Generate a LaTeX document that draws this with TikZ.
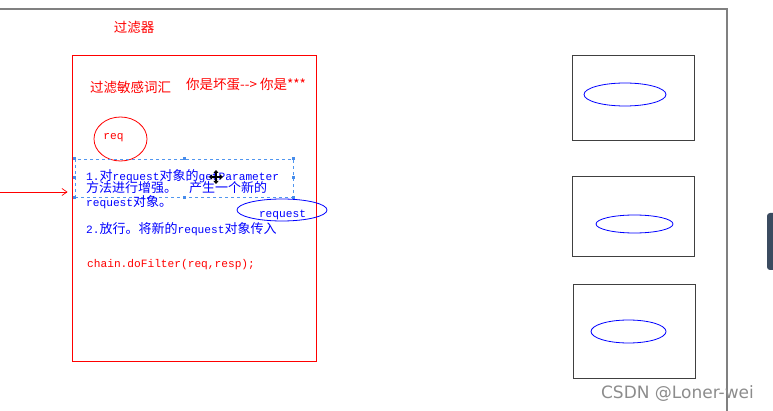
\documentclass[tikz,border=0pt]{standalone}
\usepackage{fontspec}
\setmainfont{Noto Sans CJK SC}
\newfontfamily\monofont[Scale=0.86]{Liberation Mono}
\newfontfamily\markfont{DejaVu Sans}
\usetikzlibrary{arrows.meta,shapes.geometric}
\newcommand\mn[1]{{\monofont #1}}

\begin{document}
\begin{tikzpicture}[x=1pt, y=-1pt,
        redtext/.style={text=red, font=\fontsize{13.5}{15}\selectfont, inner sep=0},
        bluetext/.style={text=blue, font=\fontsize{13}{15}\selectfont, inner sep=0, anchor=west, text height=9.5pt, text depth=1pt},
        slot/.style={draw=black!75, line width=0.9pt, inner sep=0},
        inner/.style={ellipse, draw=blue, line width=0.8pt, inner sep=0},
        handle/.style={fill={rgb,255:red,70;green,140;blue,235}, minimum size=3pt, inner sep=0}]
        \useasboundingbox (0,0) rectangle (773,411);

        % outer frame and window tab
        \draw[black!50, line width=1.6pt] (0,9) -- (727,9) -- (727,411);
        \fill[rounded corners=3pt, fill={rgb,255:red,59;green,75;blue,96}] (767,213) rectangle (778,270);

        % filter
        \node[redtext] (title) at (134,27) {过滤器};
        \node[draw=red, line width=0.9pt, inner sep=0, minimum width=244pt, minimum height=306pt] (filter) at (194,208) {};
        \node[redtext, anchor=west] (task) at (90,87) {过滤敏感词汇};
        \node[redtext, anchor=west] (swap) at (186,84) {你是坏蛋{-}{-}> 你是***};

        \node[ellipse, draw=red, line width=0.8pt, inner sep=0, minimum width=53pt, minimum height=44pt] (req) at (120.5,139) {};
        \node[text=red, inner sep=0, font=\fontsize{13}{15}\selectfont] (reqlbl) at (113.5,138) {\mn{req}};

        \node[draw={rgb,255:red,80;green,150;blue,240}, dashed, line width=0.7pt, inner sep=0, minimum width=218pt, minimum height=38pt] (sel) at (184,178) {};
        \foreach \a in {north west,north,north east,east,south east,south,south west,west}
            \node[handle] at (sel.\a) {};

        \node[bluetext] (l1) at (86,176.5) {\mn{1.}对\mn{request}对象的\mn{getParameter}};
        \node[bluetext] (l2) at (86,188.5) {方法进行增强。\hspace{12pt}产生一个新的};
        \node[bluetext] (l3) at (86,202) {\mn{request}对象。};
        \node[inner, minimum width=90pt, minimum height=22pt] (newreq) at (282,210) {};
        \node[text=blue, inner sep=0, font=\fontsize{13}{15}\selectfont] (newreqlbl) at (282.5,215) {\mn{request}};
        \node[bluetext] (l4) at (86,229) {\mn{2.}放行。将新的\mn{request}对象传入};
        \node[redtext, anchor=west, font=\fontsize{13}{15}\selectfont] (chain) at (87,265) {\mn{chain.doFilter(req,resp);}};

        % cursor
        \coordinate (cur) at (216,177);
        \draw[black, line width=1.3pt, {Triangle[length=3pt,width=5pt]}-{Triangle[length=3pt,width=5pt]}] ([xshift=-7pt]cur) -- ([xshift=7pt]cur);
        \draw[black, line width=1.3pt, {Triangle[length=3pt,width=5pt]}-{Triangle[length=3pt,width=5pt]}] ([yshift=-7pt]cur) -- ([yshift=7pt]cur);

        % incoming request
        \coordinate (src) at (0,192);
        \draw[red, line width=0.7pt, -{Straight Barb[length=5pt,width=7pt]}] (src) -- ([xshift=-4pt]filter.west |- src);

        % resources
        \node[slot, minimum width=122pt, minimum height=85pt] (res1) at (633,98) {};
        \node[inner, minimum width=82pt, minimum height=23pt] (e1) at (625,94.5) {};
        \node[slot, minimum width=122pt, minimum height=80pt] (res2) at (633,216) {};
        \node[inner, minimum width=77pt, minimum height=18pt] (e2) at (634.5,224) {};
        \node[slot, minimum width=122pt, minimum height=94pt] (res3) at (634,331) {};
        \node[inner, minimum width=75pt, minimum height=23pt] (e3) at (628.5,331.5) {};

        \node[text=black!45, font=\markfont\fontsize{17}{20}\selectfont, inner sep=0] (mark) at (677.5,393.5) {CSDN @Loner-wei};
    \end{tikzpicture}
\end{document}
